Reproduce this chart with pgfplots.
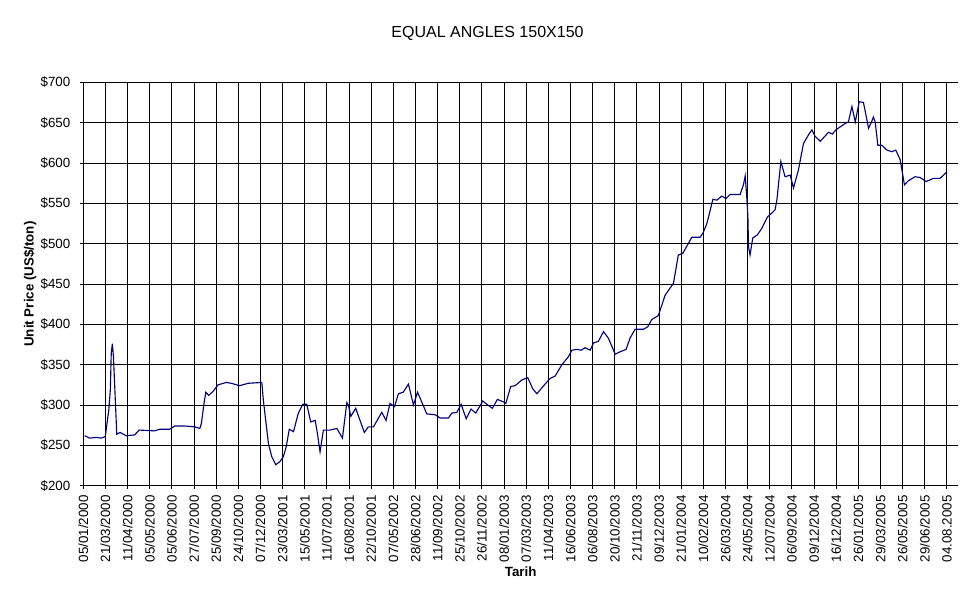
\documentclass[border=0pt]{standalone}
\usepackage{pgfplots}
\pgfplotsset{compat=1.18}
\usepackage{fontspec}
\setmainfont{Liberation Sans}
\definecolor{lineblue}{RGB}{0,0,128}
\begin{document}
\begin{tikzpicture}[x=1pt,y=1pt]
\path[use as bounding box] (0,0) rectangle (732.75,450);
\begin{axis}[
  at={(62.5pt,85.7pt)}, anchor=south west,
  scale only axis, width=656pt, height=302.55pt,
  xmin=0, xmax=39.5, ymin=200, ymax=700,
  axis lines*=left,
  axis line style={-, black, line width=0.75pt},
  xtick={0,...,39},
  ytick={200,250,...,700},
  grid=major,
  major grid style={black, line width=0.75pt},
  tick align=center,
  major tick length=4.5pt,
  tick style={black, line width=0.75pt},
  /pgf/number format/assume math mode=true,
  yticklabel={\$\pgfmathprintnumber{\tick}},
  y tick label style={font=\fontsize{10}{12}\selectfont, xshift=-4pt},
  x tick label style={font=\fontsize{10}{12}\selectfont, yshift=-1.5pt, rotate=90, anchor=east},
  xticklabels={05/01/2000,21/03/2000,11/04/2000,05/05/2000,05/06/2000,27/07/2000,25/09/2000,24/10/2000,07/12/2000,23/03/2001,15/05/2001,11/07/2001,16/08/2001,22/10/2001,07/05/2002,28/06/2002,11/09/2002,25/10/2002,26/11/2002,08/01/2003,07/03/2003,11/04/2003,16/06/2003,06/08/2003,20/10/2003,21/11/2003,09/12/2003,21/01/2004,10/02/2004,26/03/2004,24/05/2004,12/07/2004,06/09/2004,09/12/2004,16/12/2004,26/01/2005,29/03/2005,26/05/2005,29/06/2005,04.08.2005},
  title={EQUAL ANGLES 150X150},
  title style={at={(axis description cs:0.4621,1.1024)}, anchor=center, font=\fontsize{12}{14}\selectfont},
  xlabel={Tarih},
  xlabel style={at={(axis description cs:0.5,-0.2139)}, anchor=center, font=\bfseries\fontsize{10}{12}\selectfont},
  ylabel={Unit Price (US\$/ton)},
  ylabel style={at={(axis description cs:-0.061,0.5)}, anchor=center, font=\bfseries\fontsize{10}{12}\selectfont},
]
\addplot[color=lineblue, line width=0.85pt, mark=none] table {
x y
0.06 262
0.29 259
0.59 260
0.81 259
0.99 261
1.15 294
1.22 319
1.26 364
1.31 376
1.36 360
1.51 264
1.67 266
1.79 264
1.94 262
2.32 263
2.52 269
3.22 268
3.45 270
3.90 270
4.13 274
4.58 274
5.03 273
5.26 271
5.33 277
5.45 302
5.53 316
5.66 312
5.86 317
6.08 325
6.46 328
6.68 327
7.05 324
7.45 327
8.06 328
8.13 306
8.36 252
8.51 236
8.69 226
8.88 230
9.03 236
9.16 248
9.30 270
9.49 267
9.71 290
9.91 301
10.09 301
10.27 279
10.47 281
10.57 265
10.69 242
10.84 269
11.14 269
11.45 271
11.70 259
11.90 303
11.97 300
12.08 286
12.30 296
12.69 266
12.87 273
13.10 273
13.48 291
13.67 281
13.85 302
14.05 298
14.23 314
14.45 316
14.68 326
14.91 300
15.09 316
15.28 304
15.51 289
15.89 288
16.11 284
16.49 284
16.64 290
16.87 291
17.06 301
17.29 283
17.51 295
17.72 290
18.04 305
18.22 301
18.47 296
18.70 307
18.97 304
19.08 302
19.30 323
19.50 324
19.80 331
20.07 334
20.30 320
20.48 314
20.82 325
21.08 333
21.31 336
21.61 350
21.91 360
22.06 368
22.29 369
22.48 368
22.66 371
22.89 368
23.04 377
23.26 379
23.49 391
23.71 383
24.02 363
24.24 366
24.51 369
24.69 383
24.92 394
25.29 394
25.49 397
25.67 406
25.97 411
26.27 436
26.65 451
26.87 486
27.07 488
27.48 508
27.85 508
27.98 513
28.16 525
28.43 555
28.61 554
28.83 559
29.03 556
29.21 561
29.66 561
29.81 573
29.89 584
29.96 558
30.01 535
30.04 496
30.11 486
30.23 507
30.44 511
30.64 519
30.89 533
31.09 538
31.24 542
31.32 554
31.50 602
31.69 583
31.92 585
32.07 569
32.29 591
32.52 624
32.75 635
32.90 641
33.05 633
33.28 627
33.65 638
33.83 636
33.98 641
34.40 649
34.55 651
34.71 670
34.86 651
35.04 676
35.23 675
35.31 664
35.46 643
35.58 650
35.68 657
35.76 651
35.88 622
36.06 622
36.29 616
36.51 614
36.69 616
36.89 604
37.08 573
37.26 578
37.56 583
37.79 582
38.06 577
38.39 581
38.69 581
39.00 589
};
\end{axis}
\end{tikzpicture}
\end{document}
